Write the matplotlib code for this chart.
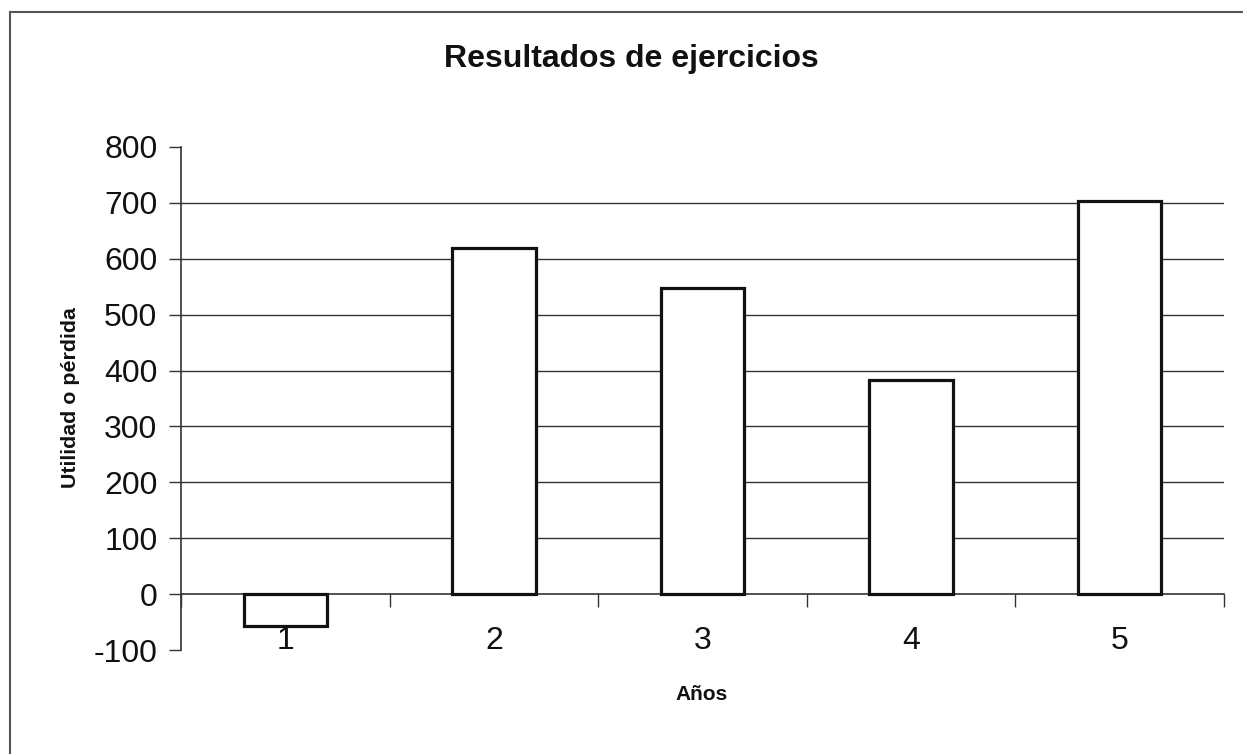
import matplotlib
matplotlib.use("Agg")
import matplotlib.pyplot as plt
from matplotlib.lines import Line2D

plt.rcParams['font.family'] = ['Liberation Sans', 'DejaVu Sans']

years = [1, 2, 3, 4, 5]
year_labels = ["1", "2", "3", "4", "5"]
results = [-57, 620, 547, 383, 703]
y_ticks = [-100, 0, 100, 200, 300, 400, 500, 600, 700, 800]
grid_values = [100, 200, 300, 400, 500, 600, 700]

title = "Resultados de ejercicios"
xlabel = "Años"
ylabel = "Utilidad o pérdida"

W, H = 1243, 754
fig = plt.figure(figsize=(W / 100, H / 100), dpi=100)
ax = fig.add_axes([181 / W, 1 - 650 / H, (1224 - 181) / W, (650 - 147) / H])

ax.hlines(grid_values, 0.5, 5.5, colors="#333333", linewidth=1.0, zorder=1)
ax.bar(years, results, width=0.4, facecolor="white", edgecolor="#111111",
       linewidth=2.3, zorder=3)

ax.set_xlim(0.5, 5.5)
ax.set_ylim(-100, 800)
ax.set_yticks(y_ticks)
ax.set_yticklabels([str(v) for v in y_ticks], fontsize=23, color="#111111")
ax.tick_params(axis="y", direction="out", length=9, width=1, color="#333333", pad=8)

ax.spines["top"].set_visible(False)
ax.spines["right"].set_visible(False)
ax.spines["left"].set_color("#333333")
ax.spines["left"].set_linewidth(1.2)
ax.spines["bottom"].set_position(("data", 0))
ax.spines["bottom"].set_color("#333333")
ax.spines["bottom"].set_linewidth(1.2)

boundaries = [y + 0.5 for y in [0] + years]
ax.set_xticks(boundaries)
ax.set_xticklabels([""] * len(boundaries))
ax.tick_params(axis="x", which="major", direction="out", length=9, width=1, color="#333333")
ax.set_xticks(years, minor=True)
ax.set_xticklabels(year_labels, minor=True, fontsize=23, color="#111111")
ax.tick_params(axis="x", which="minor", length=0, pad=23)

fig.text(631 / W, 1 - 59 / H, title, fontsize=23, fontweight="bold",
         ha="center", va="center", color="#111111")
fig.text(702 / W, 1 - 695 / H, xlabel, fontsize=15, fontweight="bold",
         ha="center", va="center", color="#111111")
fig.text(70 / W, 1 - 398 / H, ylabel, fontsize=15.4, fontweight="bold",
         ha="center", va="center", rotation=90, color="#111111")

fig.add_artist(Line2D([10 / W, 1], [1 - 12 / H, 1 - 12 / H], color="#555555",
                      linewidth=1.5, transform=fig.transFigure))
fig.add_artist(Line2D([10 / W, 10 / W], [0, 1 - 12 / H], color="#555555",
                      linewidth=1.5, transform=fig.transFigure))

fig.savefig("out.png", dpi=100)
